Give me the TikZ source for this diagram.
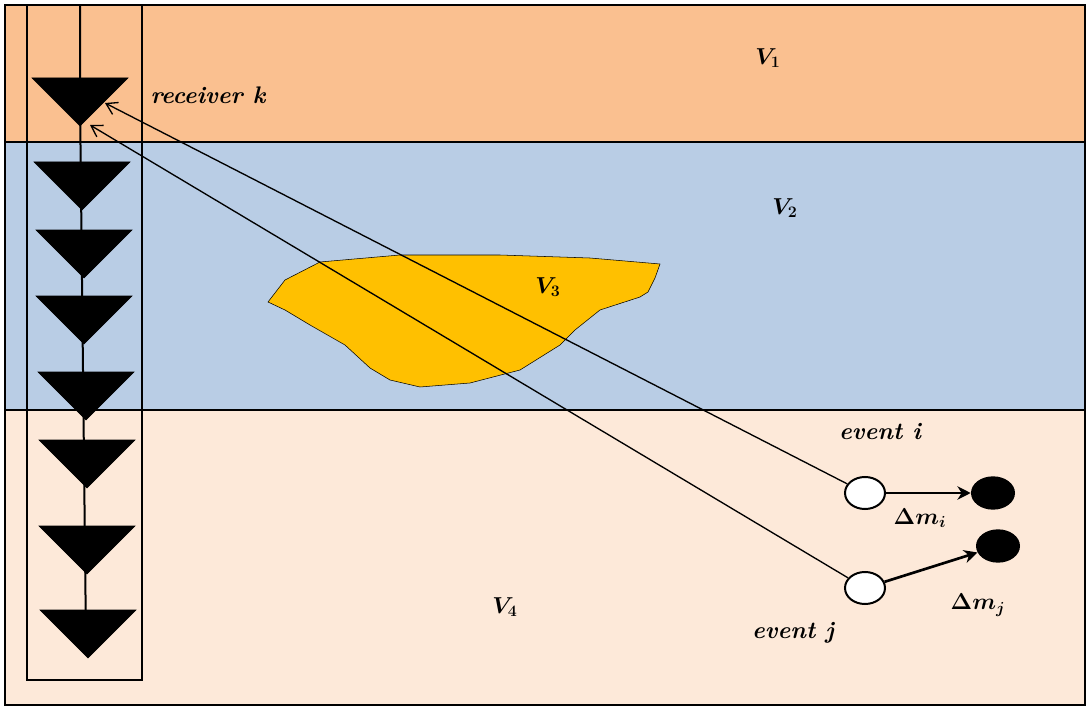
\documentclass[tikz,border=0pt]{standalone}
\usepackage{bm}
\usetikzlibrary{arrows.meta,shapes.geometric}
\definecolor{lorange}{HTML}{FAC090}
\definecolor{lblue}{HTML}{B9CDE5}
\definecolor{lpeach}{HTML}{FDE9D9}
\definecolor{lyellow}{HTML}{FFC000}
\begin{document}
\begin{tikzpicture}[x=0.75pt,y=-0.75pt,
  rcv/.style={fill=black,draw=black},
  lbl/.style={font=\fontsize{18}{20}\selectfont\bfseries\itshape},
  ev/.style={draw=black,line width=1.5pt,fill=white,ellipse,minimum width=30pt,minimum height=24pt,inner sep=0},
  evf/.style={fill=black,ellipse,minimum width=33pt,minimum height=25pt,inner sep=0},
  ray/.style={line width=1pt,-{Straight Barb[length=8pt,width=10pt]}},
  mv/.style={line width=2pt,-{Stealth[length=10pt,width=10pt]}}]
\useasboundingbox (0,0) rectangle (1090,710);
\fill[white] (0,0) rectangle (1090,710);
\fill[lorange] (5,5) rectangle (1085,142);
\fill[lblue] (5,142) rectangle (1085,410);
\fill[lpeach] (5,410) rectangle (1085,705);
\draw[line width=2pt] (5,142) -- (1085,142) (5,410) -- (1085,410);
\draw[line width=2pt] (5,5) rectangle (1085,705);
\fill[lyellow,draw=black] (268,302) -- (285,280) -- (320,262) -- (400,255) -- (500,255) -- (590,258) -- (660,264) -- (655,278) -- (648,292) -- (640,297) -- (600,310) -- (575,330) -- (560,345) -- (520,370) -- (470,383) -- (420,387) -- (390,380) -- (370,368) -- (345,345) -- (310,325) -- (285,310) -- cycle;
\draw[line width=1.5pt] (27,5) rectangle (142,680);
\draw[line width=1.5pt] (80,5) -- (80,100) -- (86,640);
\foreach \yy/\xx in {78/80,162/82,230/84,296/84,372/86,440/87,526/87,610/88}{
  \fill[rcv] (\xx-48,\yy) -- (\xx+48,\yy) -- (\xx,\yy+48) -- cycle;}
\node[ev] (ei) at (865,493) {};
\node[ev] (ej) at (865,588) {};
\node[evf] (fi) at (993,493) {};
\node[evf] (fj) at (998,546) {};
\coordinate (rk1) at (105,103);
\coordinate (rk2) at (90,125);
\draw[ray] (ei) -- (rk1);
\draw[ray] (ej) -- (rk2);
\draw[mv] (ei) -- (fi);
\draw[mv] (ej) -- (fj);
\node[lbl] (rk) at (208,95) {receiver k};
\node[lbl] (v1) at (768,58) {$\bm{V_1}$};
\node[lbl] (v2) at (785,208) {$\bm{V_2}$};
\node[lbl] (v3) at (548,287) {$\bm{V_3}$};
\node[lbl] (v4) at (505,607) {$\bm{V_4}$};
\node[lbl] (ti) at (880,432) {event i};
\node[lbl] (tj) at (793,633) {event j};
\node[lbl] (dmi) at (920,518) {$\bm{\Delta m_i}$};
\node[lbl] (dmj) at (978,605) {$\bm{\Delta m_j}$};
\end{tikzpicture}
\end{document}
